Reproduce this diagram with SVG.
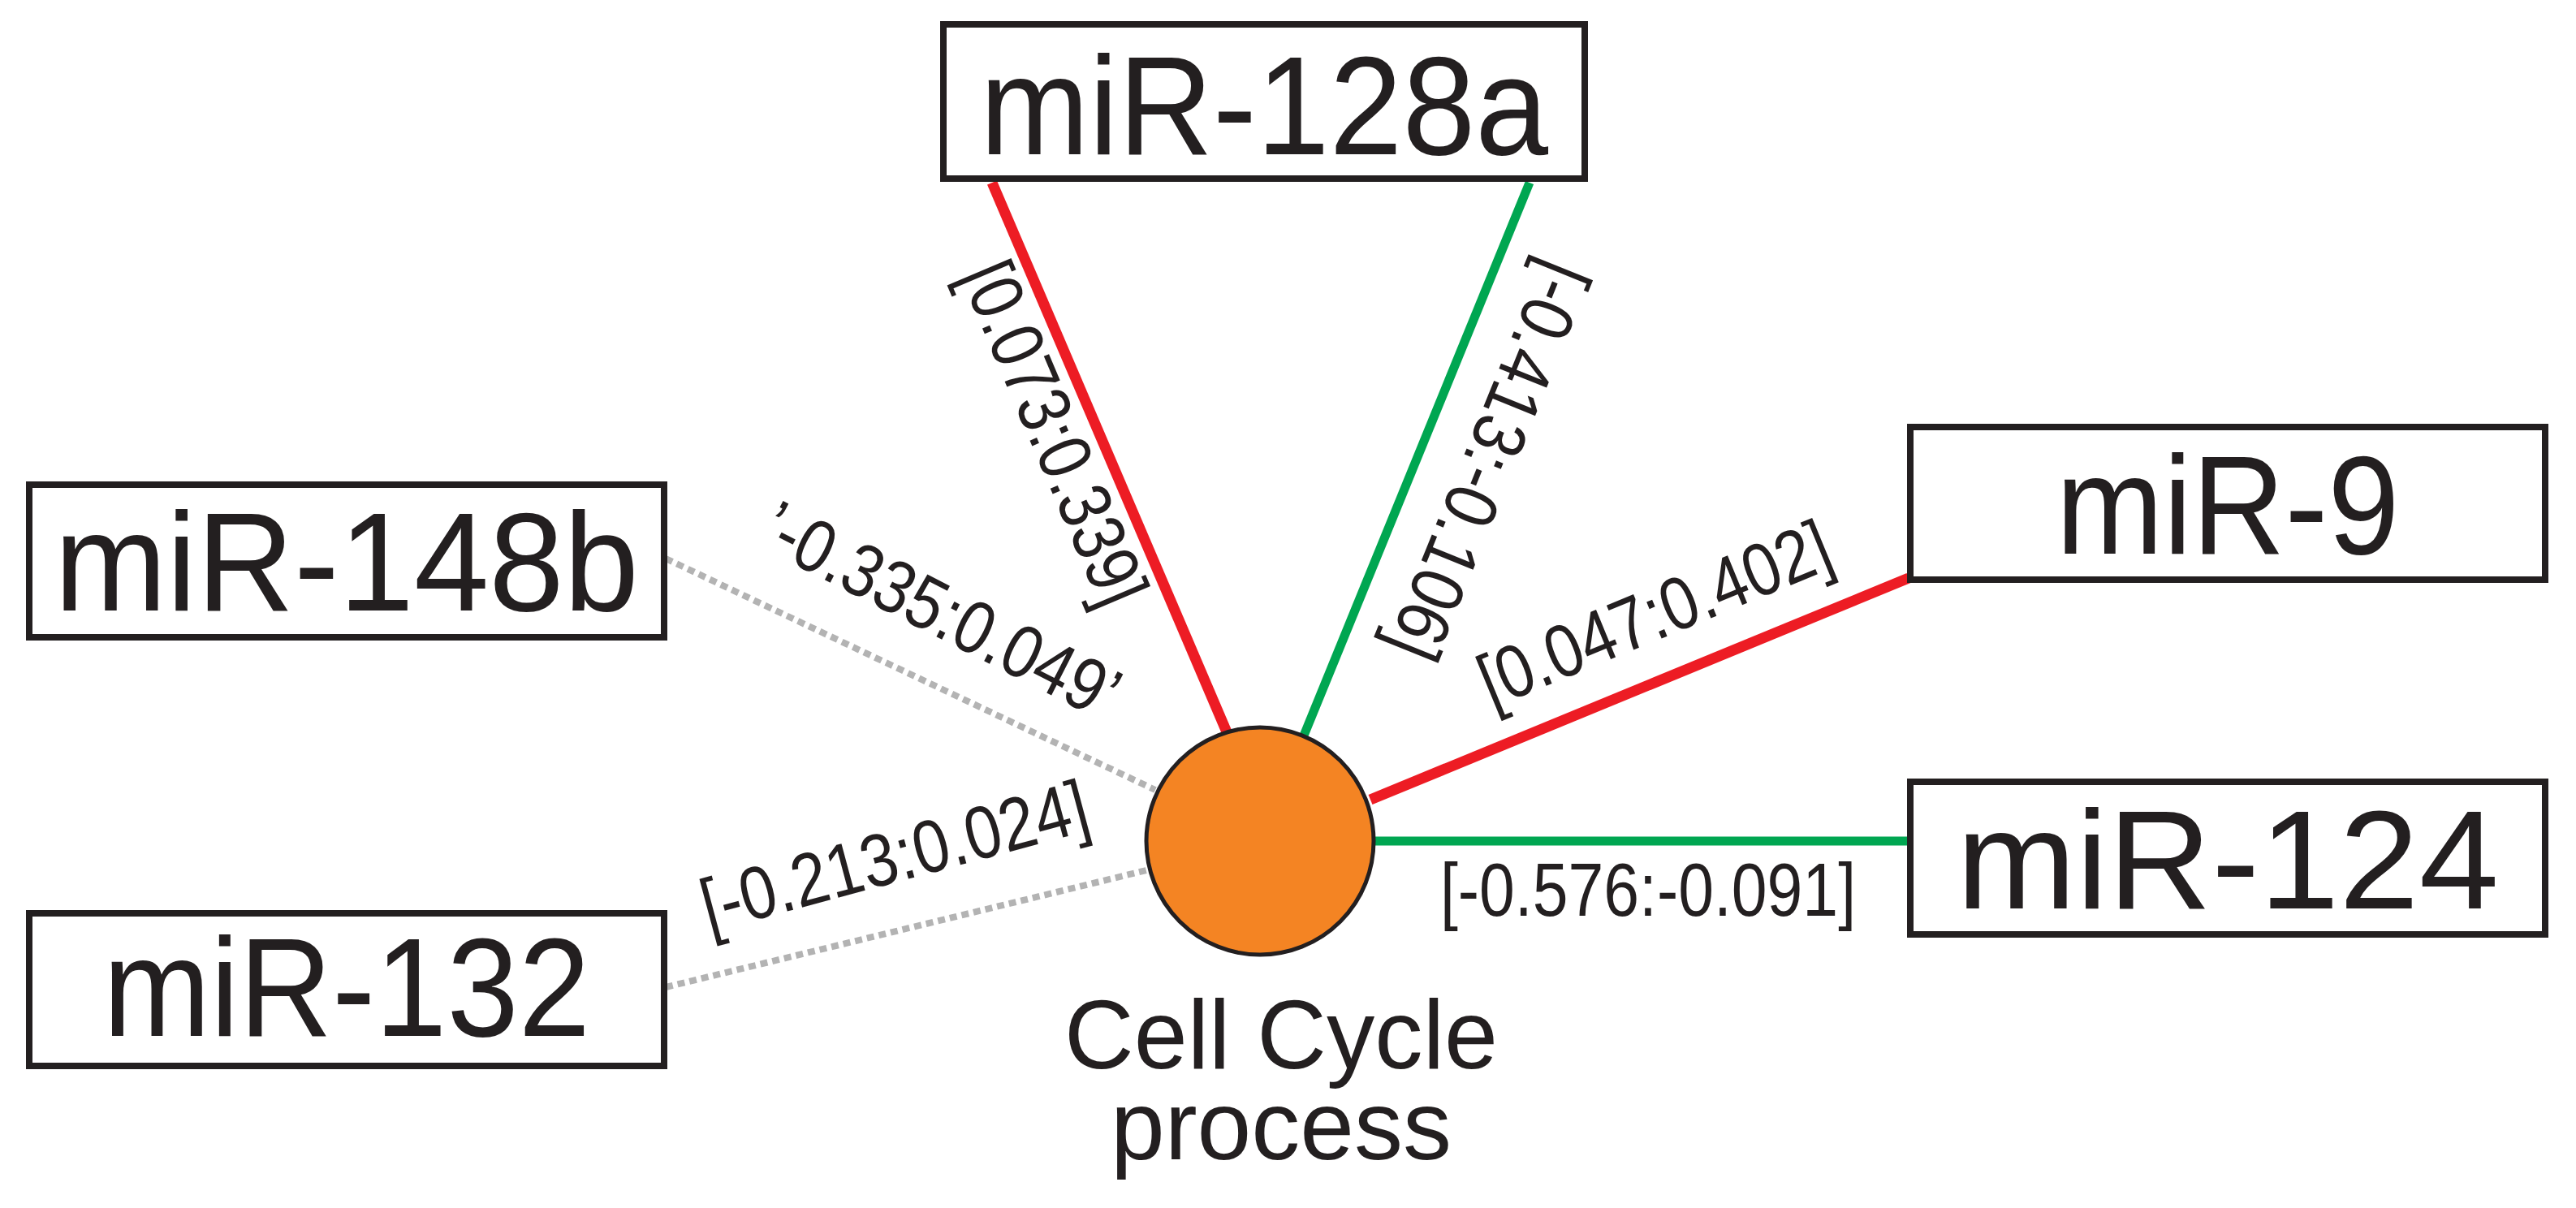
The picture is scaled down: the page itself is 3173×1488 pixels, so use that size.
<svg xmlns="http://www.w3.org/2000/svg" width="3173" height="1488" viewBox="0 0 3173 1488">
<style>
.box{fill:#fff;stroke:#231f20;stroke-width:8}
.nt{font-family:"Liberation Sans",Arial,sans-serif;font-size:172px;fill:#231f20;text-anchor:middle}
.lb{font-family:"Liberation Sans",Arial,sans-serif;font-size:92px;fill:#231f20;text-anchor:middle}
.red{stroke:#ED1C24;stroke-width:13;fill:none}
.grn{stroke:#00A651;stroke-width:11;fill:none}
.gry{stroke:#B3B3B3;stroke-width:8;fill:none;stroke-dasharray:9 6}
</style>
<g id="connectors">
<line class="red" x1="1222" y1="225" x2="1512" y2="904"/>
<line class="grn" x1="1884" y1="225" x2="1606" y2="906"/>
<line class="red" x1="2351" y1="712" x2="1688" y2="985"/>
<line class="grn" x1="1693" y1="1036" x2="2351" y2="1036"/>
<line class="gry" x1="820" y1="688" x2="1423" y2="973"/>
<line class="gry" x1="820" y1="1216" x2="1412" y2="1072"/>
<text class="lb" transform="translate(1270,546) rotate(67)" textLength="450" lengthAdjust="spacingAndGlyphs">[0.073:0.339]</text>
<text class="lb" transform="translate(1805,556) rotate(112)" textLength="520" lengthAdjust="spacingAndGlyphs">[-0.413:-0.106]</text>
<text class="lb" transform="translate(2050,785) rotate(-22.4)" textLength="460" lengthAdjust="spacingAndGlyphs">[0.047:0.402]</text>
<text class="lb" x="2030" y="1128" textLength="512" lengthAdjust="spacingAndGlyphs">[-0.576:-0.091]</text>
<text class="lb" transform="translate(1145,780) rotate(27)" textLength="480" lengthAdjust="spacingAndGlyphs">’-0.335:0.049’</text>
<text class="lb" transform="translate(1110,1085) rotate(-15)" textLength="490" lengthAdjust="spacingAndGlyphs">[-0.213:0.024]</text>
</g>
<g id="cell-cycle">
<circle cx="1552" cy="1036" r="140" fill="#F48423" stroke="#231f20" stroke-width="5"/>
<text class="nt" style="font-size:120px" x="1578" y="1316" textLength="534" lengthAdjust="spacingAndGlyphs">Cell Cycle</text>
<text class="nt" style="font-size:120px" x="1578" y="1428">process</text>
</g>
<g id="miR-128a"><rect class="box" x="1162" y="30" width="790" height="190"/><text class="nt" x="1557" y="190" textLength="700" lengthAdjust="spacingAndGlyphs">miR-128a</text></g>
<g id="miR-148b"><rect class="box" x="36" y="597" width="782" height="188"/><text class="nt" x="427" y="752" textLength="720" lengthAdjust="spacingAndGlyphs">miR-148b</text></g>
<g id="miR-132"><rect class="box" x="36" y="1125" width="782" height="188"/><text class="nt" x="427" y="1276" textLength="600" lengthAdjust="spacingAndGlyphs">miR-132</text></g>
<g id="miR-9"><rect class="box" x="2353" y="526" width="782" height="188"/><text class="nt" x="2744" y="682" textLength="423" lengthAdjust="spacingAndGlyphs">miR-9</text></g>
<g id="miR-124"><rect class="box" x="2353" y="963" width="782" height="188"/><text class="nt" x="2744" y="1119" textLength="668" lengthAdjust="spacingAndGlyphs">miR-124</text></g>
</svg>
